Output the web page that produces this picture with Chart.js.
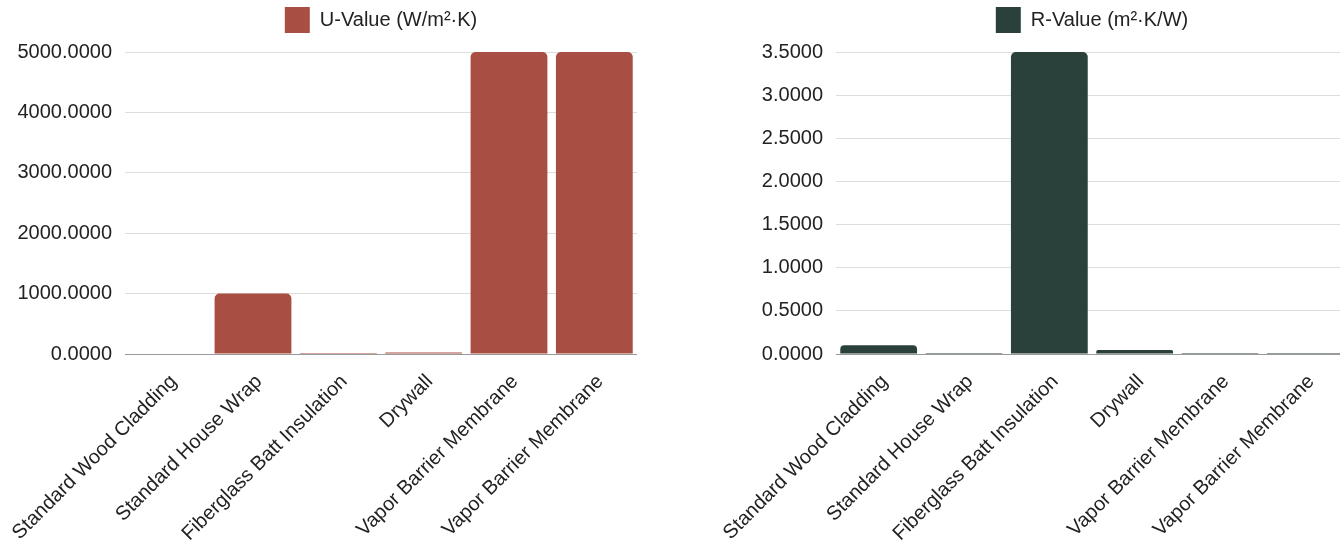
<!DOCTYPE html>
<html>
<head>
<meta charset="utf-8">
<script src="https://cdn.jsdelivr.net/npm/chart.js@4"></script>
<style>
    body { margin: 0; background: #fff; overflow: hidden; width: 1340px; height: 549px; }
    .box { position: absolute; top: 0; height: 549px; }
    #left-box { left: 0; width: 637px; }
    #right-box { left: 700px; width: 648px; }
</style>
</head>
<body>
<div class="box" id="left-box"><canvas id="u-chart"></canvas></div>
<div class="box" id="right-box"><canvas id="r-chart"></canvas></div>
<script>
const materials = [
    'Standard Wood Cladding',
    'Standard House Wrap',
    'Fiberglass Batt Insulation',
    'Drywall',
    'Vapor Barrier Membrane',
    'Vapor Barrier Membrane'
];
const uValues = [10, 1000, 0.29, 25, 5000, 5000];
const rValues = [0.1, 0.001, 3.5, 0.045, 0.0002, 0.0002];
const uTicks = [0, 1000, 2000, 3000, 4000, 5000];
const rTicks = [0, 0.5, 1, 1.5, 2, 2.5, 3, 3.5];

const FONT = '"Liberation Sans", Arial, sans-serif';

// push the plot area a little further below the legend
const legendGap = {
    id: 'legendGap',
    beforeInit(chart) {
        const fit = chart.legend.fit;
        chart.legend.fit = function () {
            fit.bind(chart.legend)();
            this.height += 9;
        };
    }
};

function makeChart(id, label, data, color, tickValues, axisWidth) {
    const ctx = document.getElementById(id).getContext('2d');
    return new Chart(ctx, {
        type: 'bar',
        data: {
            labels: materials,
            datasets: [{
                label: label,
                data: data,
                backgroundColor: color,
                borderRadius: { topLeft: 5, topRight: 5 },
                borderSkipped: 'bottom',
                categoryPercentage: 0.9,
                barPercentage: 1
            }]
        },
        options: {
            responsive: true,
            maintainAspectRatio: false,
            animation: false,
            layout: { padding: 0 },
            plugins: {
                legend: {
                    fullSize: false,
                    labels: {
                        boxWidth: 25,
                        boxHeight: 26,
                        padding: 7,
                        color: '#222',
                        font: { family: FONT, size: 20 }
                    }
                },
                tooltip: { enabled: false }
            },
            scales: {
                x: {
                    grid: { display: false },
                    border: { color: '#999' },
                    ticks: {
                        color: '#222',
                        minRotation: 45,
                        maxRotation: 45,
                        padding: 8,
                        labelOffset: 6,
                        font: { family: FONT, size: 20 }
                    },
                    afterFit: s => {
                        s.height = 195;
                        s.paddingLeft = 0;
                        s.paddingRight = 0;
                    }
                },
                y: {
                    min: 0,
                    max: tickValues[tickValues.length - 1],
                    afterBuildTicks: s => { s.ticks = tickValues.map(v => ({ value: v })); },
                    grid: { color: '#ddd', drawTicks: false },
                    border: { display: false },
                    ticks: {
                        color: '#222',
                        padding: 13,
                        font: { family: FONT, size: 20 },
                        callback: v => Number(v).toFixed(4)
                    },
                    afterFit: s => { s.width = axisWidth; }
                }
            }
        },
        plugins: [legendGap]
    });
}

makeChart('u-chart', 'U-Value (W/m²·K)', uValues, '#A84E42', uTicks, 125);
makeChart('r-chart', 'R-Value (m²·K/W)', rValues, '#2A403A', rTicks, 136);
</script>
</body>
</html>
